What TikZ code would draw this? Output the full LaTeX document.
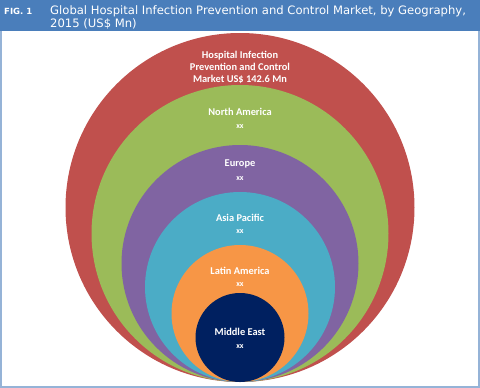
\documentclass[tikz,border=0pt]{standalone}
\usepackage{fontspec}
\setmainfont{Carlito}
\newfontfamily\headfont{DejaVu Sans}
\usepackage{tikz}

\definecolor{hdrblue}{HTML}{4A7EBB}
\definecolor{frameblue}{HTML}{95B3D7}
\definecolor{ringred}{HTML}{C0504D}
\definecolor{ringgreen}{HTML}{9BBB59}
\definecolor{ringpurple}{HTML}{8064A2}
\definecolor{ringblue}{HTML}{4BACC6}
\definecolor{ringorange}{HTML}{F79646}
\definecolor{ringnavy}{HTML}{002060}

\tikzset{
  ringlabel/.style={text=white, font=\fontsize{10.4}{12}\selectfont\bfseries, align=center, inner sep=0pt},
  ringvalue/.style={text=white, font=\fontsize{8}{9}\selectfont\bfseries, inner sep=0pt},
  headtext/.style={text=white, anchor=west, inner sep=0pt}
}

\begin{document}
\begin{tikzpicture}[x=1pt,y=-1pt]
			\useasboundingbox (0,0) rectangle (480,388);
			\fill[white] (0,0) rectangle (480,388);
			\draw[frameblue, line width=2pt] (1,1) rectangle (479,387);
			\fill[hdrblue] (0,0) rectangle (480,31);
			\node[headtext, font=\headfont\fontsize{8.5}{10}\selectfont\bfseries] (fig) at (4,11) {FIG. 1};
			\node[headtext, font=\headfont\fontsize{11.6}{13}\selectfont, align=left] (title) at (50,11)
				{Global Hospital Infection Prevention and Control Market, by Geography,};
			\node[headtext, font=\headfont\fontsize{11.6}{13}\selectfont] (titleb) at (50,24) {2015 (US\$ Mn)};
			% rings, all touching the bottom
			\fill[ringred] (240,207.5) circle (174.5);
			\fill[ringgreen] (240,233.5) circle (148.5);
			\fill[ringpurple] (240,263.5) circle (118.5);
			\fill[ringblue] (240,287) circle (95);
			\fill[ringorange] (240,313.5) circle (68.5);
			\fill[ringnavy] (240,337.5) circle (44.5);
			% labels
			\node[ringlabel] (total) at (240,67) {Hospital Infection\\Prevention and Control\\Market US\$ 142.6 Mn};
			\node[ringlabel] (na) at (240,112) {North America};
			\node[ringvalue] (naval) at (240,127) {xx};
			\node[ringlabel] (eu) at (240,164) {Europe};
			\node[ringvalue] (euval) at (240,179) {xx};
			\node[ringlabel] (ap) at (240,218) {Asia Pacific};
			\node[ringvalue] (apval) at (240,232) {xx};
			\node[ringlabel] (la) at (240,271) {Latin America};
			\node[ringvalue] (laval) at (240,285) {xx};
			\node[ringlabel] (me) at (240,332) {Middle East};
			\node[ringvalue] (meval) at (240,347) {xx};
		\end{tikzpicture}
\end{document}
